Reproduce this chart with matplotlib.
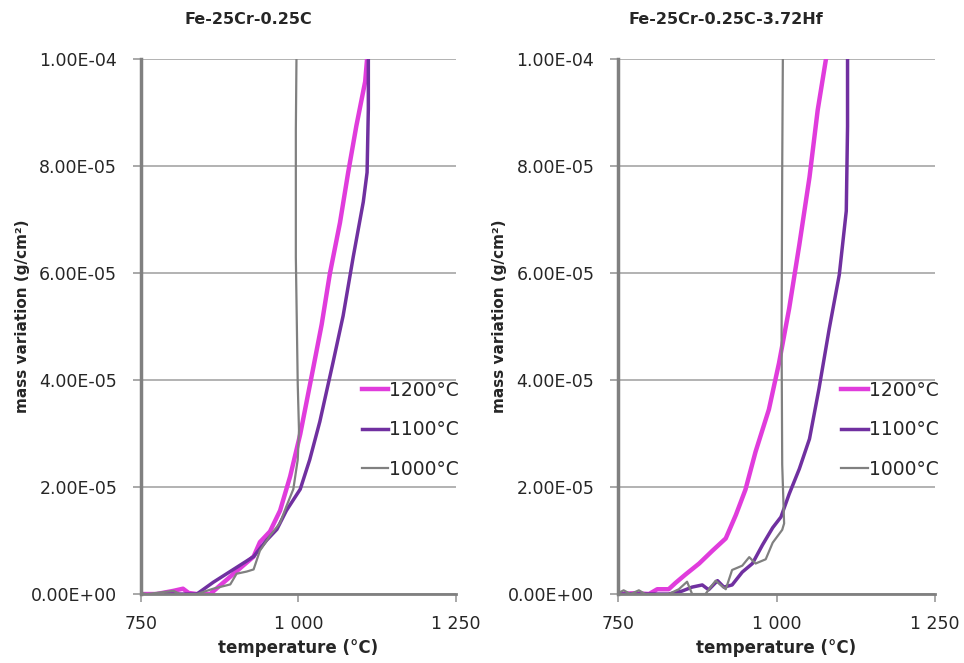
import matplotlib
matplotlib.use("Agg")
import matplotlib.pyplot as plt
from matplotlib.ticker import FuncFormatter

# Fe-25Cr-0.25C
left_1200_t = [750, 775, 802, 817, 826, 839, 860, 929, 939, 955, 971, 987, 1003, 1024, 1037, 1050, 1066, 1079, 1092, 1106, 1109]
left_1200_m = [0, 0, 0.6e-6, 1.0e-6, 0.2e-6, 0, 0, 7.0e-6, 9.7e-6, 11.7e-6, 15.6e-6, 22e-6, 29.9e-6, 42.5e-6, 50.4e-6, 59.9e-6, 69.4e-6, 78.8e-6, 87.5e-6, 95.8e-6, 100e-6]
left_1100_t = [790, 839, 865, 897, 929, 950, 966, 981, 1003, 1018, 1034, 1055, 1071, 1087, 1103, 1109, 1111, 1111]
left_1100_m = [0, 0, 2.2e-6, 4.6e-6, 7.0e-6, 10.1e-6, 12.1e-6, 15.6e-6, 19.6e-6, 25.1e-6, 32.2e-6, 43.3e-6, 52.0e-6, 63.0e-6, 73.3e-6, 78.8e-6, 90.7e-6, 100e-6]
left_1000_t = [750, 760, 802, 812, 839, 865, 892, 902, 918, 929, 939, 955, 971, 981, 992, 999, 1001, 999, 996, 996, 997]
left_1000_m = [0.2e-6, 0, 0.6e-6, 0, 0, 1.0e-6, 1.8e-6, 3.8e-6, 4.2e-6, 4.6e-6, 8.1e-6, 10.9e-6, 13.3e-6, 16.4e-6, 19.6e-6, 25.1e-6, 30.6e-6, 39.3e-6, 63e-6, 86.7e-6, 100e-6]

# Fe-25Cr-0.25C-3.72Hf
right_1200_t = [750, 777, 799, 812, 830, 841, 857, 878, 899, 920, 936, 951, 967, 988, 1004, 1020, 1036, 1052, 1065, 1078]
right_1200_m = [0, 0.16e-6, 0, 0.9e-6, 0.9e-6, 2.1e-6, 3.7e-6, 5.7e-6, 8.1e-6, 10.4e-6, 14.8e-6, 19.5e-6, 26.6e-6, 34.5e-6, 43.2e-6, 53.4e-6, 65.3e-6, 77.9e-6, 90.5e-6, 100e-6]
right_1100_t = [750, 830, 851, 867, 883, 893, 907, 917, 930, 946, 962, 978, 994, 1007, 1020, 1036, 1052, 1067, 1083, 1099, 1110, 1112, 1112]
right_1100_m = [0, 0, 0.55e-6, 1.3e-6, 1.7e-6, 0.8e-6, 2.5e-6, 1.3e-6, 1.7e-6, 4.1e-6, 5.7e-6, 9.2e-6, 12.4e-6, 14.4e-6, 18.7e-6, 23.4e-6, 29.0e-6, 38.4e-6, 49.5e-6, 59.7e-6, 71.6e-6, 87.4e-6, 100e-6]
right_1000_t = [750, 759, 770, 783, 793, 830, 846, 859, 867, 888, 904, 920, 930, 946, 957, 967, 983, 994, 1009, 1012, 1009, 1008, 1009, 1010]
right_1000_m = [0.16e-6, 0.7e-6, 0, 0.7e-6, 0, 0, 0.9e-6, 2.3e-6, 0, 0, 2.5e-6, 0.9e-6, 4.5e-6, 5.3e-6, 6.9e-6, 5.7e-6, 6.5e-6, 9.6e-6, 12.0e-6, 13.2e-6, 24.2e-6, 47.9e-6, 79.5e-6, 100e-6]

titles = ["Fe-25Cr-0.25C", "Fe-25Cr-0.25C-3.72Hf"]
series_labels = ["1200°C", "1100°C", "1000°C"]
x_ticks = [750, 1000, 1250]
x_tick_labels = ["750", "1 000", "1 250"]
y_ticks = [0, 2e-5, 4e-5, 6e-5, 8e-5, 1e-4]

colors = ["#E03CDC", "#7030A0", "#808080"]
widths = [3.2, 2.5, 1.6]

panels = [
    [(left_1200_t, left_1200_m), (left_1100_t, left_1100_m), (left_1000_t, left_1000_m)],
    [(right_1200_t, right_1200_m), (right_1100_t, right_1100_m), (right_1000_t, right_1000_m)],
]

fig = plt.figure(figsize=(9.64, 6.63), dpi=100)
axes = [fig.add_axes([0.146, 0.104, 0.327, 0.807]),
        fig.add_axes([0.641, 0.104, 0.329, 0.807])]

txt = "#262626"
for ax, title, data in zip(axes, titles, panels):
    for (t, m), lab, c, w in zip(data, series_labels, colors, widths):
        ax.plot(t, m, color=c, lw=w, label=lab, solid_joinstyle="round")
    ax.set_xlim(750, 1250)
    ax.set_ylim(0, 1e-4)
    ax.set_xticks(x_ticks)
    ax.set_xticklabels(x_tick_labels)
    ax.set_yticks(y_ticks)
    ax.yaxis.set_major_formatter(FuncFormatter(lambda v, p: f"{v:.2E}"))
    ax.grid(axis="y", color="#A6A6A6", lw=1.2)
    ax.set_axisbelow(True)
    for s in ["top", "right"]:
        ax.spines[s].set_visible(False)
    ax.spines["left"].set_color("#808080")
    ax.spines["left"].set_linewidth(2.5)
    ax.spines["bottom"].set_color("#808080")
    ax.spines["bottom"].set_linewidth(2)
    ax.tick_params(axis="both", colors="#999999", labelcolor=txt, labelsize=12.5, length=6, width=1.2)
    ax.tick_params(axis="y", pad=11)
    ax.tick_params(axis="x", pad=9)
    ax.set_xlabel("temperature (°C)", fontsize=12, fontweight="bold", color=txt)
    ax.xaxis.set_label_coords(0.5, -0.084)
    ax.set_ylabel("mass variation (g/cm²)", fontsize=11, fontweight="bold", color=txt)
    ax.yaxis.set_label_coords(-0.35, 0.52)
    ax.text(0.34, 1.073, title, transform=ax.transAxes, ha="center", va="center",
            fontsize=11.5, fontweight="bold", color=txt)
    ax.legend(loc="center right", bbox_to_anchor=(1.01, 0.307), frameon=False,
              borderaxespad=0, borderpad=0,
              fontsize=13.5, handlelength=1.4, handletextpad=0.05, labelspacing=1.1,
              labelcolor=txt)

fig.savefig("out.png", dpi=100)
